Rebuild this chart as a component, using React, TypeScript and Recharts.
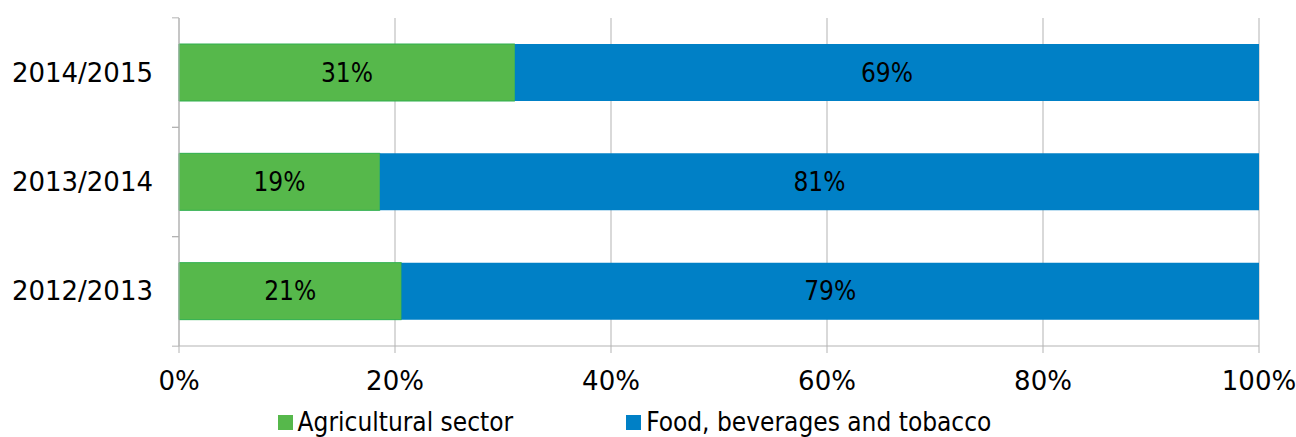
import React from "react";
import { BarChart, Bar, XAxis, YAxis, CartesianGrid, Legend, LabelList } from "recharts";

const years = ["2014/2015", "2013/2014", "2012/2013"];
const agricultural = [31.1, 18.6, 20.6];
const foodBeverages = [68.9, 81.4, 79.4];
const xTicks = [0, 20, 40, 60, 80, 100];

const data = years.map((year, i) => ({
  year,
  agri: agricultural[i],
  food: foodBeverages[i],
}));

const W = 1296;
const H = 437;
const TOP = 18;
const PLOT_H = 329;
const BAND = PLOT_H / years.length;
const FONT = "'DejaVu Sans', sans-serif";
const FONT_COND = "'DejaVu Sans Condensed', 'DejaVu Sans', sans-serif";
const AXIS_COLOR = "#b3b3b3";

function YTick(props: any) {
  const { x, y, payload } = props;
  return (
    <g>
      <line x1={x - 7} x2={x} y1={y - BAND / 2} y2={y - BAND / 2} stroke={AXIS_COLOR} />
      <line x1={x - 7} x2={x} y1={y + BAND / 2} y2={y + BAND / 2} stroke={AXIS_COLOR} />
      <text x={x - 26} y={y} dy={9} textAnchor="end" fill="#000" fontSize={26} fontFamily={FONT}>
        {payload.value}
      </text>
    </g>
  );
}

function LegendContent(props: any) {
  const items = props.payload || [];
  return (
    <div style={{ display: "flex", justifyContent: "center", gap: 113, fontFamily: FONT_COND, fontSize: 26, paddingLeft: 10 }}>
      {items.map((it: any) => (
        <div key={it.value} style={{ display: "flex", alignItems: "center", color: "#000", lineHeight: "30px" }}>
          <span style={{ width: 15, height: 15, background: it.color, marginRight: 5, display: "inline-block" }} />
          {it.value}
        </div>
      ))}
    </div>
  );
}

export default function App() {
  return (
    <div style={{ position: "absolute", left: 0, top: 0, background: "#fff" }}>
      <BarChart
        width={W}
        height={H}
        data={data}
        layout="vertical"
        margin={{ top: TOP, right: 37, left: 0, bottom: 9 }}
        barCategoryGap="24%"
      >
        <CartesianGrid horizontal={false} stroke={AXIS_COLOR} />
        <XAxis
          type="number"
          domain={[0, 100]}
          ticks={xTicks}
          tickFormatter={(v) => `${v}%`}
          tick={{ fill: "#000", fontSize: 26, fontFamily: FONT }}
          stroke={AXIS_COLOR}
          tickSize={7}
          tickMargin={19}
          height={52}
          interval={0}
        />
        <YAxis
          type="category"
          dataKey="year"
          width={179}
          tick={<YTick />}
          tickLine={false}
          tickSize={0}
          tickMargin={0}
          stroke={AXIS_COLOR}
        />
        <Legend verticalAlign="bottom" content={<LegendContent />} wrapperStyle={{ bottom: 0 }} />
        <Bar dataKey="agri" name="Agricultural sector" stackId="a" fill="#56B84B" stroke="#2EAF4E" isAnimationActive={false} barSize={57}>
          <LabelList dataKey="agri" position="center" formatter={(v: any) => `${Math.round(v)}%`} fill="#000" fontSize={26} fontFamily={FONT_COND} />
        </Bar>
        <Bar dataKey="food" name="Food, beverages and tobacco" stackId="a" fill="#0080C6" isAnimationActive={false} barSize={57}>
          <LabelList dataKey="food" position="center" formatter={(v: any) => `${Math.round(v)}%`} fill="#000" fontSize={26} fontFamily={FONT_COND} />
        </Bar>
      </BarChart>
    </div>
  );
}
